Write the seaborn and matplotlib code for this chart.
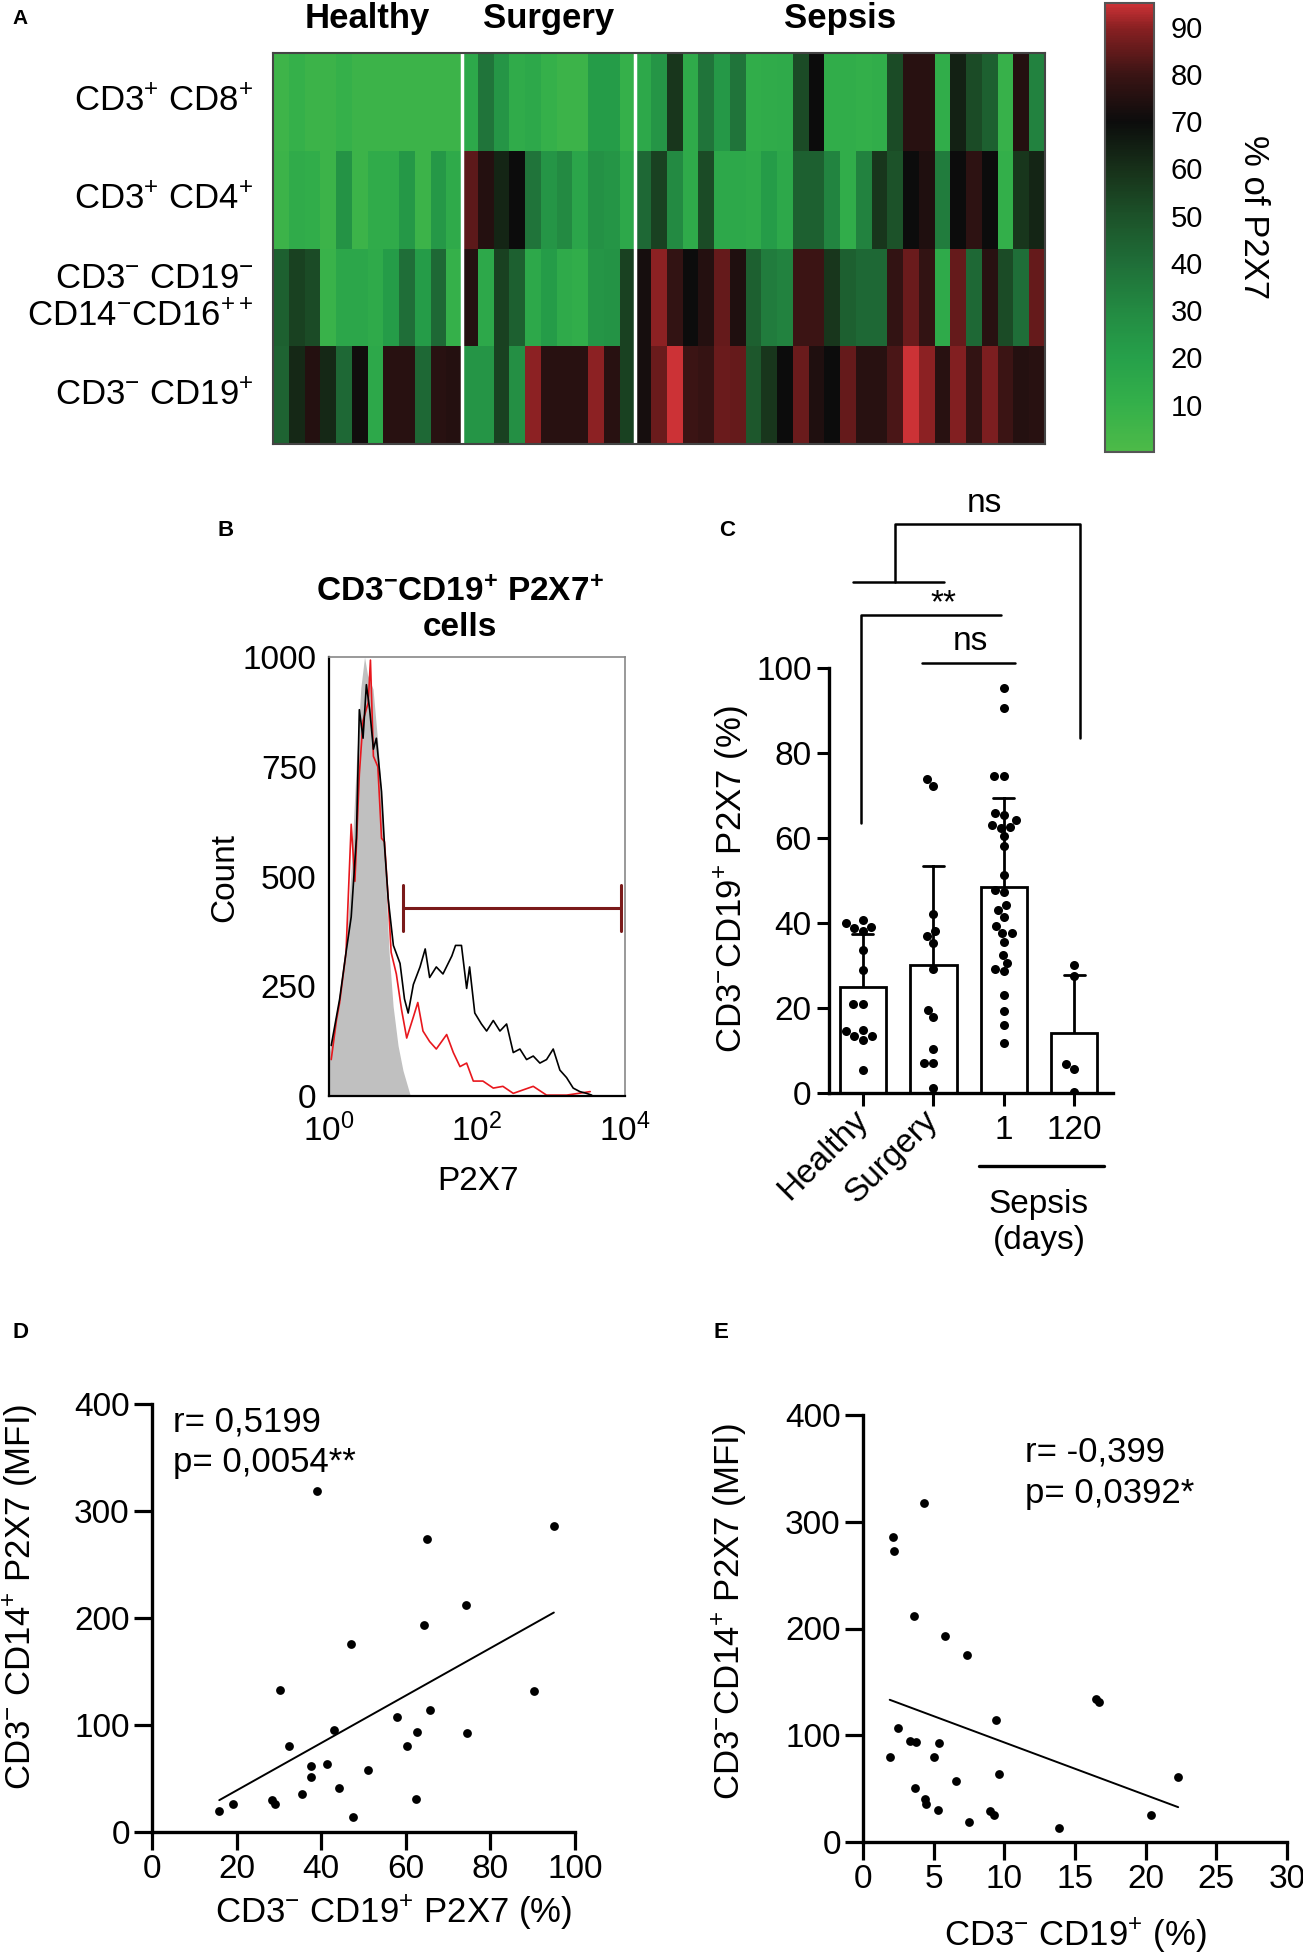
import numpy as np
import pandas as pd
import matplotlib
matplotlib.use('Agg')
import matplotlib.pyplot as plt
import seaborn as sns
from matplotlib.colors import LinearSegmentedColormap

# ---------------- DATA ----------------
# Panel A heatmap (% of P2X7), columns: 12 healthy, 11 surgery, 26 sepsis
heat_rows = ['CD3$^{+}$ CD8$^{+}$', 'CD3$^{+}$ CD4$^{+}$',
             'CD3$^{-}$ CD19$^{-}$\nCD14$^{-}$CD16$^{++}$', 'CD3$^{-}$ CD19$^{+}$']
heat_groups = ['Healthy', 'Surgery', 'Sepsis']
cd8_healthy = [6, 10, 7, 7, 10, 7, 7, 7, 7, 7, 7, 7]
cd8_surgery = [15, 38, 25, 13, 15, 10, 7, 7, 22, 22, 10]
cd8_sepsis = [15, 25, 58, 14, 38, 24, 38, 12, 13, 14, 52, 70, 12, 12, 11, 12, 52, 76, 76, 12, 64, 52, 45, 9, 75, 33]
cd4_healthy = [7, 13, 12, 7, 26, 7, 13, 13, 24, 7, 24, 14]
cd4_surgery = [84, 75, 63, 70, 38, 25, 30, 17, 27, 25, 15]
cd4_sepsis = [42, 55, 30, 14, 52, 15, 15, 14, 22, 15, 45, 45, 32, 12, 33, 58, 50, 70, 74, 35, 70, 77, 70, 11, 58, 63]
cd14_healthy = [45, 55, 52, 8, 16, 16, 14, 22, 40, 22, 42, 10]
cd14_surgery = [75, 15, 55, 45, 15, 22, 14, 12, 25, 26, 55]
cd14_sepsis = [72, 90, 78, 70, 75, 85, 74, 45, 35, 33, 80, 80, 58, 45, 42, 42, 78, 86, 78, 14, 85, 42, 76, 52, 40, 85]
cd19_healthy = [44, 62, 75, 62, 42, 71, 15, 76, 76, 42, 76, 75]
cd19_surgery = [25, 25, 55, 28, 90, 76, 76, 76, 90, 76, 55]
cd19_sepsis = [72, 86, 97, 80, 79, 86, 85, 48, 58, 70, 86, 74, 70, 85, 76, 76, 82, 97, 90, 76, 89, 78, 88, 80, 75, 76]
cbar_ticks = [10, 20, 30, 40, 50, 60, 70, 80, 90]

# Panel B histogram (log10 P2X7 vs count)
gray_logx = [0, 0.07, 0.144, 0.23, 0.30, 0.37, 0.43, 0.48, 0.52, 0.595, 0.663, 0.722, 0.767, 0.812, 0.866, 0.933, 1.0, 1.069, 1.1]
gray_count = [95, 160, 215, 330, 520, 760, 930, 1000, 960, 927, 798, 652, 489, 327, 205, 115, 58, 18, 0]
black_logx = [0.03, 0.144, 0.23, 0.30, 0.37, 0.41, 0.46, 0.505, 0.55, 0.60, 0.64, 0.71, 0.75, 0.80, 0.87, 0.96,
              1.02, 1.07, 1.14, 1.23, 1.30, 1.36, 1.45, 1.54, 1.66, 1.71, 1.79, 1.86, 1.90, 1.97, 2.06, 2.13,
              2.22, 2.31, 2.40, 2.49, 2.58, 2.67, 2.76, 2.85, 2.94, 3.03, 3.12, 3.21, 3.30, 3.39, 3.48, 3.55]
black_count = [115, 221, 327, 408, 587, 880, 815, 937, 880, 790, 815, 693, 571, 449, 343, 302,
               221, 189, 254, 294, 335, 270, 294, 278, 319, 343, 343, 245, 294, 189, 164, 148,
               172, 148, 164, 99, 107, 83, 91, 75, 83, 107, 59, 42, 18, 10, 6, 2]
red_logx = [0.03, 0.10, 0.144, 0.23, 0.30, 0.35, 0.41, 0.46, 0.53, 0.56, 0.60, 0.66, 0.71, 0.75, 0.80, 0.84,
            0.91, 0.98, 1.05, 1.14, 1.20, 1.27, 1.36, 1.45, 1.59, 1.68, 1.77, 1.86, 1.95, 2.08, 2.22, 2.35,
            2.49, 2.76, 2.94, 3.21, 3.53]
red_count = [83, 172, 213, 327, 619, 489, 733, 855, 896, 993, 774, 750, 587, 579, 449, 327,
             278, 197, 132, 180, 213, 148, 124, 107, 140, 99, 67, 75, 34, 34, 18, 22,
             6, 22, 2, 2, 10]
gate_logx = [1.0, 3.95]
gate_count = 428

# Panel C
c_order = ['Healthy', 'Surgery', '1', '120']
c_healthy = [40, 38.8, 38, 39, 40.6, 33.6, 29, 21, 21, 14.5, 13.3, 12.5, 13.3, 14.9, 5.3]
c_surgery = [73.9, 72.3, 42, 36.9, 38, 35.3, 29.2, 19.6, 17.8, 10.4, 7.1, 7.1, 1.2]
c_sepsis1 = [95.3, 90.6, 74.5, 74.5, 65.9, 64.3, 65.3, 62.7, 62.4, 63.1, 60.4, 58, 51.2, 47.2, 47.7,
             43.1, 44.3, 41.4, 39.2, 37.6, 37.6, 35.5, 32.5, 30.6, 28.6, 29.2, 23.1, 19.2, 16.1, 11.8]
c_sepsis120 = [30.2, 27.5, 6.9, 5.7, 0.2]

# Panel D
d_x = [15.9, 19.1, 28.3, 29.0, 30.3, 32.4, 35.4, 37.6, 37.6, 39.1, 41.3, 43.1, 44.1, 47.0, 47.6, 51.0,
       57.9, 60.2, 62.3, 62.6, 64.2, 65.1, 65.7, 74.3, 74.4, 90.4, 95.0]
d_y = [19.6, 26.5, 30.2, 25.9, 133.1, 80.4, 35.5, 61.4, 51.4, 318.6, 63.9, 95.1, 40.8, 176.1, 13.7, 57.7,
       107.2, 80.4, 30.6, 93.5, 193.9, 273.4, 114.1, 212.6, 92.9, 131.9, 285.9]
# Panel E
e_x = [1.89, 2.12, 2.17, 2.48, 3.30, 3.63, 3.70, 3.77, 4.29, 4.41, 4.48, 5.05, 5.28, 5.35, 5.83, 6.60,
       7.36, 7.52, 9.01, 9.25, 9.41, 9.62, 13.9, 16.5, 16.7, 20.4, 22.3]
e_y = [79.9, 285.5, 272.7, 106.7, 94.9, 211.9, 50.5, 93.3, 317.9, 40.6, 35.3, 79.9, 29.6, 92.4, 193.4, 56.8,
       175.4, 19.0, 28.7, 25.6, 113.9, 63.7, 13.1, 133.5, 131.5, 25.3, 60.8]

# ---------------- STYLE ----------------
sns.set_theme(style='white')
plt.rcParams['font.family'] = ['Liberation Sans', 'DejaVu Sans']
plt.rcParams['mathtext.fontset'] = 'custom'
plt.rcParams['mathtext.rm'] = 'Liberation Sans'
plt.rcParams['mathtext.it'] = 'Liberation Sans:italic'
plt.rcParams['mathtext.bf'] = 'Liberation Sans:bold'
plt.rcParams['mathtext.default'] = 'regular'
plt.rcParams['text.color'] = 'black'
plt.rcParams['axes.labelcolor'] = 'black'
plt.rcParams['xtick.color'] = 'black'
plt.rcParams['ytick.color'] = 'black'

W, H = 1303, 1957
fig = plt.figure(figsize=(W / 100, H / 100), dpi=100)


def rect(x0, y0, x1, y1):
    return [x0 / W, 1 - y1 / H, (x1 - x0) / W, (y1 - y0) / H]


def ftext(x, y, s, **kw):
    fig.text(x / W, 1 - y / H, s, **kw)


# ---------------- PANEL A ----------------
mat = np.array([cd8_healthy + cd8_surgery + cd8_sepsis,
                cd4_healthy + cd4_surgery + cd4_sepsis,
                cd14_healthy + cd14_surgery + cd14_sepsis,
                cd19_healthy + cd19_surgery + cd19_sepsis], dtype=float)
heat_df = pd.DataFrame(mat, index=heat_rows)
n_h, n_s, n_p = len(cd8_healthy), len(cd8_surgery), len(cd8_sepsis)

node_vals = [0, 10, 20, 30, 40, 50, 60, 70, 80, 90, 95]
node_cols = ['#4dba48', '#34b04a', '#26a04a', '#238a42', '#1f6e38', '#1c5229',
             '#173019', '#0c0c0c', '#3a1414', '#8a2022', '#cc3236']
cmap = LinearSegmentedColormap.from_list('gkr', [(v / 95, c) for v, c in zip(node_vals, node_cols)])

axa = fig.add_axes(rect(273, 53, 1045, 444))
cax = fig.add_axes(rect(1105, 3, 1154, 452))
sns.heatmap(heat_df, cmap=cmap, vmin=0, vmax=95, ax=axa, cbar_ax=cax,
            xticklabels=False, yticklabels=heat_rows, cbar_kws={'ticks': cbar_ticks})
axa.tick_params(axis='y', length=0, pad=14, labelsize=25)
for lbl in axa.get_yticklabels():
    lbl.set_rotation(0)
    lbl.set_ha('right')
    lbl.set_va('center')
axa.axvline(n_h, color='white', lw=2.5)
axa.axvline(n_h + n_s, color='white', lw=2.5)
for sp in axa.spines.values():
    sp.set_visible(True)
    sp.set_color('#444444')
    sp.set_linewidth(1.5)
mids = [n_h / 2, n_h + n_s / 2, n_h + n_s + n_p / 2]
for m, g in zip(mids, heat_groups):
    axa.text(m, -0.35, g, ha='center', va='center', fontsize=25, fontweight='bold', clip_on=False)

cbar = axa.collections[0].colorbar
cbar.outline.set_edgecolor('#555555')
cbar.outline.set_linewidth(1.5)
cax.tick_params(left=True, right=True, direction='in', length=7, width=1.2,
                labelsize=21, pad=12, labelleft=False, labelright=True)
ftext(1253, 217, '% of P2X7', rotation=270, ha='center', va='center', fontsize=25)

# panel letters
ftext(12, 19, 'A', fontsize=15, fontweight='bold', va='center')
ftext(226, 530, 'B', fontsize=16, fontweight='bold', va='center', ha='center')
ftext(727, 530, 'C', fontsize=16, fontweight='bold', va='center', ha='center')
ftext(12, 1332, 'D', fontsize=16, fontweight='bold', va='center')
ftext(721, 1332, 'E', fontsize=16, fontweight='bold', va='center', ha='center')

# ---------------- PANEL B ----------------
axb = fig.add_axes(rect(329, 657, 625, 1096))
axb.fill_between(10 ** np.array(gray_logx), gray_count, color='#c0c0c0', lw=0, zorder=1)
sns.lineplot(x=10 ** np.array(black_logx), y=black_count, color='black', lw=1.2,
             estimator=None, ax=axb, zorder=3)
sns.lineplot(x=10 ** np.array(red_logx), y=red_count, color='#e8171d', lw=1.2,
             estimator=None, ax=axb, zorder=2)
gx = 10 ** np.array(gate_logx)
axb.plot(gx, [gate_count, gate_count], color='#7a1a1a', lw=2.2, zorder=4)
for xv in gx:
    axb.plot([xv, xv], [gate_count - 52, gate_count + 53], color='#7a1a1a', lw=2.2, zorder=4)
axb.set_xscale('log')
axb.set_xlim(1, 1e4)
axb.set_ylim(0, 1000)
axb.set_xticks([1, 10, 100, 1000, 10000])
axb.set_xticklabels(['$10^{0}$', '', '$10^{2}$', '', '$10^{4}$'])
axb.set_yticks([0, 250, 500, 750, 1000])
axb.tick_params(axis='both', labelsize=24, direction='out', length=4, width=1, colors='black')
axb.tick_params(axis='x', which='minor', direction='out', length=3, width=0.8, bottom=True)
axb.tick_params(axis='x', which='major', pad=9)
axb.tick_params(axis='y', pad=5)
for s in ['top', 'right']:
    axb.spines[s].set_color('#888888')
    axb.spines[s].set_linewidth(1.2)
for s in ['left', 'bottom']:
    axb.spines[s].set_color('black')
    axb.spines[s].set_linewidth(1.6)
axb.set_xlabel('')
axb.set_ylabel('')
ftext(225, 878, 'Count', rotation=90, ha='center', va='center', fontsize=24)
ftext(478, 1182, 'P2X7', ha='center', va='center', fontsize=24)
ftext(460, 610, 'CD3$^{-}$CD19$^{+}$ P2X7$^{+}$\ncells', ha='center', va='center', fontsize=24,
      fontweight='bold', linespacing=1.15)

# ---------------- PANEL C ----------------
c_df = pd.DataFrame({
    'group': ['Healthy'] * len(c_healthy) + ['Surgery'] * len(c_surgery)
             + ['1'] * len(c_sepsis1) + ['120'] * len(c_sepsis120),
    'value': c_healthy + c_surgery + c_sepsis1 + c_sepsis120,
})
axc = fig.add_axes(rect(829, 668, 1113, 1093))
sns.barplot(data=c_df, x='group', y='value', order=c_order, errorbar='sd', capsize=0.3,
            color='white', saturation=1, edgecolor='black', linewidth=2, width=0.66,
            err_kws={'color': 'black', 'linewidth': 2}, ax=axc)
for ln in axc.lines:
    ln.set_zorder(1)
for p in axc.patches:
    p.set_zorder(2)
sns.swarmplot(data=c_df, x='group', y='value', order=c_order, color='black', size=6.5, ax=axc, zorder=3)
axc.set_xlim(-0.48, 3.55)
axc.set_ylim(0, 100)
axc.set_yticks([0, 20, 40, 60, 80, 100])
axc.set_xlabel('')
axc.set_ylabel('')
sns.despine(ax=axc)
for s in ['left', 'bottom']:
    axc.spines[s].set_linewidth(2.4)
    axc.spines[s].set_color('black')
axc.tick_params(axis='both', direction='out', length=9, width=2.2, labelsize=24, left=True, bottom=True)
axc.tick_params(axis='x', pad=7)
axc.set_xticks(range(4))
axc.set_xticklabels(c_order)
for lbl in axc.get_xticklabels()[:2]:
    lbl.set_rotation(45)
    lbl.set_ha('right')
    lbl.set_va('center')
    lbl.set_rotation_mode('anchor')
ftext(732, 879, 'CD3$^{-}$CD19$^{+}$ P2X7 (%)', rotation=90, ha='center', va='center', fontsize=25)
bk = dict(color='black', lw=1.8, clip_on=False)
axc.plot([0.45, 0.45, 3.08, 3.08], [120.2, 133.9, 133.9, 83.5], **bk)
axc.plot([-0.14, 1.15], [120.2, 120.2], **bk)
axc.plot([-0.03, -0.03, 1.96], [63.5, 112.5, 112.5], **bk)
axc.plot([0.84, 2.16], [101.2, 101.2], **bk)
axc.text(1.73, 135, 'ns', ha='center', va='bottom', fontsize=24, clip_on=False)
axc.text(1.15, 111.5, '**', ha='center', va='bottom', fontsize=24, clip_on=False)
axc.text(1.52, 102.5, 'ns', ha='center', va='bottom', fontsize=24, clip_on=False)
axc.plot([1.65, 3.42], [-17.2, -17.2], color='black', lw=2.4, clip_on=False)
axc.text(2.5, -30.4, 'Sepsis\n(days)', ha='center', va='center', fontsize=24, clip_on=False)

# ---------------- PANEL D ----------------
def corr_axes(ax, xticks):
    sns.despine(ax=ax)
    for s in ['left', 'bottom']:
        ax.spines[s].set_linewidth(2.4)
        ax.spines[s].set_color('black')
    ax.set_yticks([0, 100, 200, 300, 400])
    ax.set_xticks(xticks)
    ax.tick_params(axis='both', direction='out', length=13, width=2.3, labelsize=24,
                   left=True, bottom=True, pad=3)
    ax.set_xlabel('')
    ax.set_ylabel('')


axd = fig.add_axes(rect(152, 1404, 575, 1832))
sns.regplot(x=d_x, y=d_y, ci=None, ax=axd, color='black',
            scatter_kws={'s': 40, 'linewidths': 0, 'alpha': 1}, line_kws={'lw': 1.4})
axd.set_xlim(0, 100)
axd.set_ylim(0, 400)
corr_axes(axd, [0, 20, 40, 60, 80, 100])
axd.text(5.0, 374, 'r= 0,5199', fontsize=25, va='baseline')
axd.text(5.0, 336, 'p= 0,0054**', fontsize=25, va='baseline')
ftext(21, 1597, 'CD3$^{-}$ CD14$^{+}$ P2X7 (MFI)', rotation=90, ha='center', va='center', fontsize=25)
ftext(394, 1913, 'CD3$^{-}$ CD19$^{+}$ P2X7 (%)', ha='center', va='center', fontsize=25)

# ---------------- PANEL E ----------------
axe = fig.add_axes(rect(863, 1415, 1287, 1842))
sns.regplot(x=e_x, y=e_y, ci=None, ax=axe, color='black',
            scatter_kws={'s': 40, 'linewidths': 0, 'alpha': 1}, line_kws={'lw': 1.4})
axe.set_xlim(0, 30)
axe.set_ylim(0, 400)
corr_axes(axe, [0, 5, 10, 15, 20, 25, 30])
axe.text(11.46, 356, 'r= -0,399', fontsize=25, va='baseline')
axe.text(11.46, 317.6, 'p= 0,0392*', fontsize=25, va='baseline')
ftext(730, 1612, 'CD3$^{-}$CD14$^{+}$ P2X7 (MFI)', rotation=90, ha='center', va='center', fontsize=25)
ftext(1075, 1936, 'CD3$^{-}$ CD19$^{+}$ (%)', ha='center', va='center', fontsize=25)

fig.savefig('out.png', dpi=100)
